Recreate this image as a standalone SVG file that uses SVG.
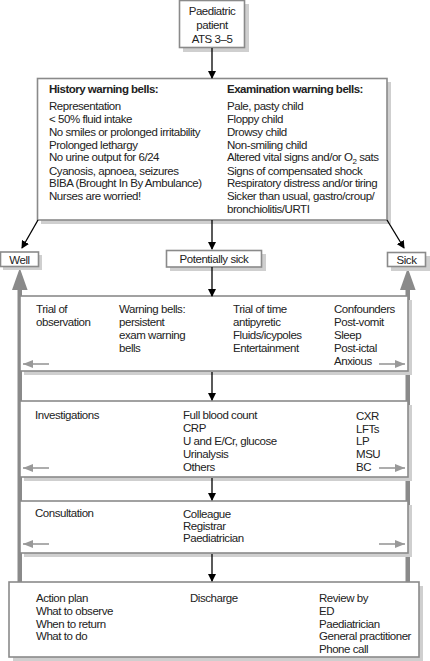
<svg xmlns="http://www.w3.org/2000/svg" width="430" height="661" viewBox="0 0 430 661">
<style>
text{font-family:"Liberation Sans",Arial,sans-serif;font-size:11.5px;fill:#222;letter-spacing:-0.45px}
.b{font-weight:bold;letter-spacing:-0.5px}
.box{fill:#fff;stroke:#8a8a8a;stroke-width:1.6}
.sh{fill:#cfcfcf}
.ar{stroke:#000;stroke-width:1.3;fill:none}
.ga{stroke:#999;stroke-width:1.6;fill:none}
.sec{stroke:#8a8a8a;stroke-width:1.6;fill:#fff}
</style>
<defs>
<marker id="ah" markerWidth="8" markerHeight="8" refX="7" refY="4" orient="auto" markerUnits="userSpaceOnUse"><path d="M0,0 L8,4 L0,8 z" fill="#000"/></marker>
<marker id="gh" markerWidth="10" markerHeight="8" refX="10" refY="4" orient="auto" markerUnits="userSpaceOnUse"><path d="M0,0 L10,4 L0,8 z" fill="#999"/></marker>
</defs>

<!-- big gray bars -->
<g id="bars">
<rect x="17.5" y="288" width="4.5" height="295" fill="#8a8a8a"/>
<polygon points="19.8,268 12,290 27.6,290" fill="#8a8a8a"/>
<rect x="405.5" y="288" width="4.5" height="295" fill="#8a8a8a"/>
<polygon points="407.8,268 400,290 415.6,290" fill="#8a8a8a"/>
</g>

<g id="top">
<rect class="sh" x="183" y="4" width="66" height="48"/>
<rect class="box" x="179.5" y="0.5" width="65" height="47"/>
<text x="212" y="15" text-anchor="middle">Paediatric</text>
<text x="212" y="29" text-anchor="middle">patient</text>
<text x="212" y="43" text-anchor="middle">ATS 3–5</text>
</g>

<g id="warning">
<rect class="sh" x="41" y="82" width="350" height="142"/>
<rect class="box" x="37.5" y="78.5" width="349.5" height="141.5"/>
<text class="b" x="49" y="93">History warning bells:</text>
<text x="49" y="110">Representation</text>
<text x="49" y="122.5">&lt; 50% fluid intake</text>
<text x="49" y="135.5">No smiles or prolonged irritability</text>
<text x="49" y="148.5">Prolonged lethargy</text>
<text x="49" y="161">No urine output for 6/24</text>
<text x="49" y="174.5">Cyanosis, apnoea, seizures</text>
<text x="49" y="187">BIBA (Brought In By Ambulance)</text>
<text x="49" y="200">Nurses are worried!</text>
<text class="b" x="227" y="93">Examination warning bells:</text>
<text x="227" y="110">Pale, pasty child</text>
<text x="227" y="122.5">Floppy child</text>
<text x="227" y="135.5">Drowsy child</text>
<text x="227" y="148.5">Non-smiling child</text>
<text x="227" y="161">Altered vital signs and/or O<tspan font-size="8" dy="2.5">2</tspan><tspan dy="-2.5"> sats</tspan></text>
<text x="227" y="174.5">Signs of compensated shock</text>
<text x="227" y="187">Respiratory distress and/or tiring</text>
<text x="227" y="200">Sicker than usual, gastro/croup/</text>
<text x="227" y="213">bronchiolitis/URTI</text>
</g>

<g id="well">
<rect class="sh" x="3" y="255" width="39" height="15"/>
<rect class="box" x="0.5" y="252" width="38" height="14.5"/>
<text x="19.5" y="263.5" text-anchor="middle">Well</text>
</g>
<g id="potential">
<rect class="sh" x="170" y="254" width="96" height="17"/>
<rect class="box" x="166.5" y="250.5" width="95" height="16.5"/>
<text x="214" y="263" text-anchor="middle">Potentially sick</text>
</g>
<g id="sick">
<rect class="sh" x="391" y="256" width="39" height="15"/>
<rect class="box" x="387.5" y="252.5" width="38" height="14"/>
<text x="406.5" y="264" text-anchor="middle">Sick</text>
</g>

<g id="trial">
<rect class="sh" x="24" y="300" width="388" height="75"/>
<rect class="sec" x="20" y="296" width="388" height="75"/>
<text x="36" y="313">Trial of</text>
<text x="36" y="326">observation</text>
<text x="119" y="313">Warning bells:</text>
<text x="119" y="326">persistent</text>
<text x="119" y="339">exam warning</text>
<text x="119" y="352">bells</text>
<text x="233" y="313">Trial of time</text>
<text x="233" y="326">antipyretic</text>
<text x="233" y="339">Fluids/icypoles</text>
<text x="233" y="352">Entertainment</text>
<text x="334" y="313">Confounders</text>
<text x="334" y="326">Post-vomit</text>
<text x="334" y="339">Sleep</text>
<text x="334" y="352">Post-ictal</text>
<text x="334" y="365">Anxious</text>
</g>

<g id="investigations">
<rect class="sh" x="24" y="405" width="388" height="76"/>
<rect class="sec" x="20" y="401" width="388" height="76"/>
<text x="35" y="419">Investigations</text>
<text x="183" y="419">Full blood count</text>
<text x="183" y="432">CRP</text>
<text x="183" y="445">U and E/Cr, glucose</text>
<text x="183" y="458">Urinalysis</text>
<text x="183" y="471">Others</text>
<text x="356" y="420">CXR</text>
<text x="356" y="433">LFTs</text>
<text x="356" y="445">LP</text>
<text x="356" y="458">MSU</text>
<text x="356" y="471">BC</text>
</g>

<g id="consultation">
<rect class="sh" x="24" y="505" width="388" height="52"/>
<rect class="sec" x="20" y="501" width="388" height="52"/>
<text x="35" y="517">Consultation</text>
<text x="183" y="518">Colleague</text>
<text x="183" y="530">Registrar</text>
<text x="183" y="542">Paediatrician</text>
</g>

<g id="discharge">
<rect class="sh" x="13" y="586" width="410" height="75"/>
<rect class="box" x="9" y="582" width="410" height="75"/>
<text x="36" y="602">Action plan</text>
<text x="36" y="615">What to observe</text>
<text x="36" y="628">When to return</text>
<text x="36" y="640">What to do</text>
<text x="190" y="602">Discharge</text>
<text x="319" y="602">Review by</text>
<text x="319" y="615">ED</text>
<text x="319" y="628">Paediatrician</text>
<text x="319" y="640">General practitioner</text>
<text x="319" y="653">Phone call</text>
</g>

<g id="connectors">
<line class="ar" x1="212" y1="48" x2="212" y2="78" marker-end="url(#ah)"/>
<line class="ar" x1="38" y1="220" x2="22" y2="248" marker-end="url(#ah)"/>
<line class="ar" x1="212" y1="220" x2="212" y2="249" marker-end="url(#ah)"/>
<line class="ar" x1="387" y1="220" x2="404" y2="248" marker-end="url(#ah)"/>
<line class="ar" x1="212" y1="267" x2="212" y2="296" marker-end="url(#ah)"/>
<line class="ar" x1="212" y1="372" x2="212" y2="400" marker-end="url(#ah)"/>
<line class="ar" x1="212" y1="478" x2="212" y2="500" marker-end="url(#ah)"/>
<line class="ar" x1="212" y1="554" x2="212" y2="581" marker-end="url(#ah)"/>
<line class="ga" x1="49" y1="364" x2="23" y2="364" marker-end="url(#gh)"/>
<line class="ga" x1="379" y1="364" x2="405" y2="364" marker-end="url(#gh)"/>
<line class="ga" x1="49" y1="468" x2="23" y2="468" marker-end="url(#gh)"/>
<line class="ga" x1="379" y1="468" x2="405" y2="468" marker-end="url(#gh)"/>
<line class="ga" x1="49" y1="544" x2="23" y2="544" marker-end="url(#gh)"/>
<line class="ga" x1="379" y1="544" x2="405" y2="544" marker-end="url(#gh)"/>
</g>
</svg>
